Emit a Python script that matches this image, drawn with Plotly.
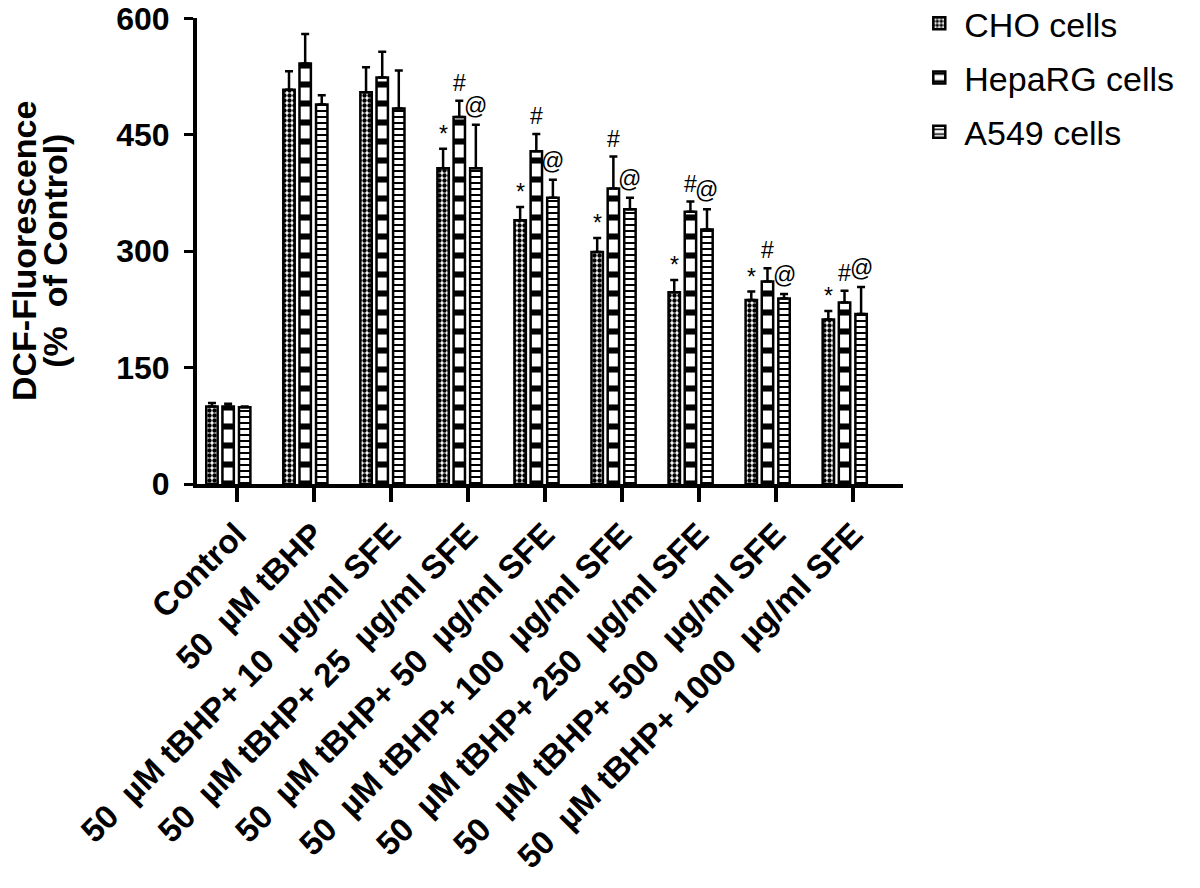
import numpy as np
import plotly.graph_objects as go

categories = [
    "Control",
    "50  µM tBHP",
    "50  µM tBHP+ 10  µg/ml SFE",
    "50  µM tBHP+ 25  µg/ml SFE",
    "50  µM tBHP+ 50  µg/ml SFE",
    "50  µM tBHP+ 100  µg/ml SFE",
    "50  µM tBHP+ 250  µg/ml SFE",
    "50  µM tBHP+ 500  µg/ml SFE",
    "50  µM tBHP+ 1000  µg/ml SFE",
]
series_names = ["CHO cells", "HepaRG cells", "A549 cells"]

cho_vals = [100, 508, 505, 407, 340, 299, 247, 237, 212]
cho_err = [4.5, 24, 32, 25, 17, 18, 16, 11, 11]
cho_sig = ["", "", "", "*", "*", "*", "*", "*", "*"]

hep_vals = [100, 542, 524, 473, 429, 381, 351, 261, 234]
hep_err = [3.5, 38, 33, 21, 22, 41, 13, 17, 15]
hep_sig = ["", "", "", "#", "#", "#", "#", "#", "#"]

a549_vals = [99, 489, 484, 407, 369, 354, 328, 239, 219]
a549_err = [1, 12, 49, 56, 23, 15, 26, 6, 35]
a549_sig = ["", "", "", "@", "@", "@", "@", "@", "@"]

y_ticks = [0, 150, 300, 450, 600]
y_title_lines = ["DCF-Fluorescence", "(%  of Control)"]

FONT = "Liberation Sans, Arial, sans-serif"
x = np.arange(len(categories))
bar_w = 0.148
offsets = [-0.395, -0.185, 0.03]
patterns = [
    dict(shape=".", size=5, solidity=0.6, fgcolor="black", bgcolor="white", fgopacity=1),
    dict(shape="-", size=19, solidity=0.32, fgcolor="black", bgcolor="white", fgopacity=1),
    dict(shape="-", size=6, solidity=0.33, fgcolor="black", bgcolor="white", fgopacity=1),
]
all_vals = [cho_vals, hep_vals, a549_vals]
all_err = [cho_err, hep_err, a549_err]
all_sig = [cho_sig, hep_sig, a549_sig]
sig_shift = [0, 3, 4]

fig = go.Figure()
for name, vals, err, pat, off in zip(series_names, all_vals, all_err, patterns, offsets):
    fig.add_trace(go.Bar(
        x=x, y=vals, name=name, width=bar_w, offset=off, legendgroup=name,
        marker=dict(color="white", line=dict(color="black", width=2.5), pattern=pat),
        error_y=dict(type="data", symmetric=False, array=err, arrayminus=[0] * len(err),
                     color="black", thickness=2.5, width=4),
    ))

for vals, err, sig, off, sh in zip(all_vals, all_err, all_sig, offsets, sig_shift):
    for i, s in enumerate(sig):
        if s:
            fig.add_annotation(
                x=x[i] + off + bar_w / 2, y=vals[i] + err[i], text=s,
                showarrow=False, yanchor="bottom", xanchor="center", yshift=sh,
                font=dict(family=FONT, size=23, color="black"),
            )

# y-axis title as two rotated lines
for line, xp in zip(y_title_lines, [-0.245, -0.2015]):
    fig.add_annotation(
        xref="paper", yref="paper", x=xp, y=0.5, text=line, textangle=-90,
        showarrow=False, xanchor="center", yanchor="middle",
        font=dict(family=FONT, size=34, color="black", weight="bold"),
    )

fig.update_layout(
    width=1200, height=888,
    margin=dict(l=197, r=297, t=18, b=404, autoexpand=False),
    plot_bgcolor="white", paper_bgcolor="white",
    barmode="overlay",
    font=dict(family=FONT, color="black"),
    legend=dict(x=1.016, y=1.05, xanchor="left", yanchor="top",
                font=dict(family=FONT, size=34, color="black"),
                bgcolor="rgba(0,0,0,0)", itemwidth=40, tracegroupgap=7),
    showlegend=True,
)
fig.update_xaxes(
    range=[-0.515, 8.648], tickvals=x, ticktext=categories, tickangle=-45,
    showline=True, linecolor="black", linewidth=4, ticks="outside", ticklen=14, tickwidth=4,
    tickcolor="black", showgrid=False, zeroline=False,
    tickfont=dict(family=FONT, size=33, color="black", weight="bold"),
)
fig.update_yaxes(
    range=[0, 600.6], tickvals=y_ticks, showline=True, linecolor="black", linewidth=4,
    ticks="outside", ticklen=9, tickwidth=3, tickcolor="black", showgrid=False, zeroline=False,
    ticklabelstandoff=8, ticklabeloverflow="allow",
    tickfont=dict(family=FONT, size=32, color="black", weight="bold"),
)
fig.write_html("out.html", config={"displayModeBar": False},
               post_script="document.body.style.margin='0px';")
